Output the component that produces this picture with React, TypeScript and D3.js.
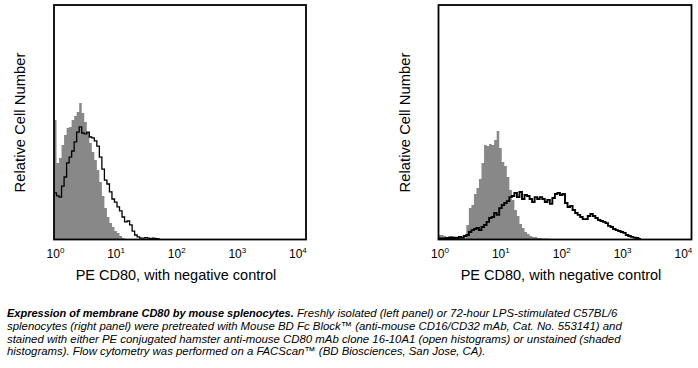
import React from 'react';
import * as d3 from 'd3';

// ---- data -------------------------------------------------------------
// log10 fluorescence decades shown on the axis
const decades = [0, 1, 2, 3, 4];
// each histogram value is one channel bin of this width (in decades), starting at 10^0
const binWidth = 0.04;

// Left panel: freshly isolated splenocytes (relative cell number, % of axis height)
const leftShaded = [
  50.9, 32.5, 34.6, 40.2, 44.4, 47.4, 47.9, 50.9, 52.6, 54.3, 58.1, 53.8, 50.0, 45.7,
  41.0, 37.2, 33.8, 29.5, 24.4, 18.4, 13.2, 9.4, 6.8, 5.1, 3.4, 2.6, 1.3, 0.4, 0,
];
const leftOpen = [
  19.7, 18.4, 17.9, 22.6, 26.5, 32.5, 35.0, 37.6, 41.5, 45.7, 47.9, 45.3, 44.9, 45.7,
  43.6, 43.2, 41.9, 39.7, 35.0, 29.9, 25.2, 23.5, 20.1, 17.1, 15.8, 13.7, 12.0, 9.4,
  7.3, 7.7, 6.0, 3.4, 1.7, 0.9, 0.4, 0.4, 0.6, 0.4, 0.2, 0.4, 0.2, 0,
];

// Right panel: 72-hour LPS-stimulated splenocytes
const rightShaded = [
  1.7, 1.7, 1.3, 0.9, 1.3, 1.3, 0.9, 0.9, 0.9, 0.6, 0.6, 6.0, 13.2, 14.5, 19.2, 21.8,
  25.6, 32.5, 40.2, 39.7, 40.6, 40.2, 42.3, 46.2, 38.9, 32.9, 31.2, 26.5, 20.9, 16.7,
  12.4, 9.8, 6.4, 4.7, 3.0, 2.1, 1.3, 0.9, 0.9, 0.4, 0.4, 0.2, 0.2, 0.2, 0,
];
const rightOpen = [
  0.2, 0.2, 0.2, 0.4, 0.6, 0.4, 0.6, 0.4, 0.9, 0.6, 1.3, 1.7, 3.0, 3.8, 4.3, 4.7,
  3.8, 5.1, 6.0, 7.3, 9.0, 9.4, 11.1, 10.3, 13.2, 14.5, 15.4, 16.2, 17.9, 18.4, 19.7,
  17.9, 20.1, 17.1, 18.8, 18.4, 17.1, 15.8, 17.9, 17.1, 17.9, 17.1, 15.8, 16.7, 15.0,
  17.5, 19.2, 19.7, 18.8, 19.2, 15.4, 13.7, 14.1, 12.4, 11.1, 10.3, 9.4, 8.5, 8.5,
  9.8, 10.7, 9.8, 9.0, 8.1, 7.7, 7.3, 6.8, 5.6, 5.1, 4.3, 3.8, 3.4, 3.0, 2.6, 1.7,
  1.3, 0.9, 0.6, 0.4, 0,
];

const xTitle = 'PE CD80, with negative control';
const yTitle = 'Relative Cell Number';
const captionBold = 'Expression of membrane CD80 by mouse splenocytes.';
const captionLines = [
  ' Freshly isolated (left panel) or 72-hour LPS-stimulated C57BL/6',
  'splenocytes (right panel) were pretreated with Mouse BD Fc Block\u2122 (anti-mouse CD16/CD32 mAb, Cat. No. 553141) and',
  'stained with either PE conjugated hamster anti-mouse CD80 mAb clone 16-10A1 (open histograms) or unstained (shaded',
  'histograms).  Flow cytometry was performed on a FACScan\u2122 (BD Biosciences, San Jose, CA).',
];

// ---- layout -----------------------------------------------------------
const W = 698;
const H = 368;
const FONT = "'Liberation Sans', Arial, Helvetica, sans-serif";
const plotTop = 5;
const plotBottom = 239;

type PanelProps = {
  x0: number;
  x1: number;
  shaded: number[];
  open: number[];
  lineWidth: number;
  yTitleX: number;
};

function toPoints(vals: number[]) {
  const pts = vals.map((v, i) => ({ c: Math.pow(10, i * binWidth), v }));
  pts.push({ c: Math.pow(10, vals.length * binWidth), v: vals[vals.length - 1] });
  return pts;
}

function Panel({ x0, x1, shaded, open, lineWidth, yTitleX }: PanelProps) {
  const x = d3.scaleLog().domain([1, 1e4]).range([x0, x1]);
  const y = d3.scaleLinear().domain([0, 100]).range([plotBottom, plotTop]);

  const area = d3
    .area<{ c: number; v: number }>()
    .x((d) => x(d.c))
    .y0(y(0))
    .y1((d) => y(d.v))
    .curve(d3.curveStepAfter);
  const line = d3
    .line<{ c: number; v: number }>()
    .x((d) => x(d.c))
    .y((d) => y(d.v))
    .curve(d3.curveStepAfter);

  const cx = (x0 + x1) / 2;
  return (
    <g>
      <path d={area(toPoints(shaded)) || ''} fill="#888888" stroke="none" />
      <path
        d={line(toPoints(open)) || ''}
        fill="none"
        stroke="#000"
        strokeWidth={lineWidth}
        strokeLinejoin="miter"
      />
      <rect
        x={x0}
        y={plotTop}
        width={x1 - x0}
        height={plotBottom + 0.5 - plotTop}
        fill="none"
        stroke="#000"
        strokeWidth={1.8}
      />
      {decades.map((d) => (
        <text
          key={d}
          x={x(Math.pow(10, d)) + 1.5 - 2.4 * d}
          y={258.3}
          textAnchor="middle"
          fontFamily={FONT}
          fontSize={12}
          fill="#000"
        >
          10
          <tspan fontSize={8} dy={-5.6}>
            {d}
          </tspan>
        </text>
      ))}
      <text
        x={cx - 4}
        y={279.5}
        textAnchor="middle"
        fontFamily={FONT}
        fontSize={14.5}
        fill="#000"
      >
        {xTitle}
      </text>
      <text
        transform={`translate(${yTitleX},122.5) rotate(-90)`}
        textAnchor="middle"
        fontFamily={FONT}
        fontSize={14.8}
        fill="#000"
      >
        {yTitle}
      </text>
    </g>
  );
}

export default function App() {
  return (
    <svg
      width={W}
      height={H}
      viewBox={`0 0 ${W} ${H}`}
      style={{ position: 'absolute', left: 0, top: 0, background: '#fff' }}
    >
      <rect x={0} y={0} width={W} height={H} fill="#fff" />
      <Panel x0={54} x1={306} shaded={leftShaded} open={leftOpen} lineWidth={1.3} yTitleX={24.5} />
      <Panel x0={438.5} x1={691.5} shaded={rightShaded} open={rightOpen} lineWidth={1.9} yTitleX={410} />
      <g fontFamily={FONT} fontSize={11.4} fontStyle="italic" fill="#000" style={{ whiteSpace: 'pre' }}>
        <text x={7} y={317.3}>
          <tspan fontWeight="bold" fontSize={11}>{captionBold}</tspan>
          <tspan>{captionLines[0]}</tspan>
        </text>
        {captionLines.slice(1).map((t, i) => (
          <text key={i} x={7} y={317.3 + 12.7 * (i + 1)}>
            {t}
          </text>
        ))}
      </g>
    </svg>
  );
}
